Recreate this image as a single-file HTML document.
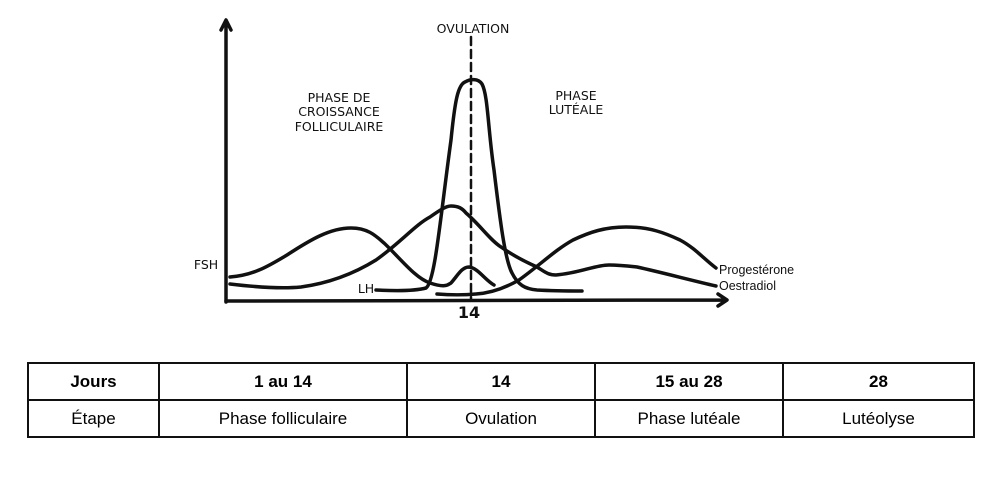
<!DOCTYPE html>
<html><head><meta charset="utf-8"><style>
body{margin:0;background:#fff;width:1000px;height:493px;overflow:hidden;font-family:"DejaVu Sans","Liberation Sans",sans-serif}
svg{position:absolute;left:0;top:0}
table{position:absolute;left:27px;top:362px;border-collapse:collapse;font-family:"Liberation Sans",sans-serif;font-size:17px}
td{border:2px solid #111;height:35px;text-align:center;padding:0}
</style></head><body>
<svg width="1000" height="360" viewBox="0 0 1000 360">
<g fill="none" stroke="#111" stroke-width="3.5" stroke-linecap="round" stroke-linejoin="round">
<path d="M226 302 L226 22 M221 30 L226 20 L231 30"/>
<path d="M226 301 L726 300 M718 294 L727 300 L718 306"/>
<path d="M471 37 L471 300" stroke-width="2.5" stroke-dasharray="8 5"/>
<path d="M230 277 C255 275 270 265 287 255 C310 240 330 228 351 228 C368 228 376 236 384 243 C400 258 415 278 430 283 C445 288 448 285 451 283 C458 275 462 267 469 267 C478 268 485 280 494 285"/>
<path d="M230 284 C255 287 280 289 301 287 C330 283 355 273 376 260 C400 243 415 225 430 217 C440 210 446 206 451 206 C458 206 462 208 466 213 C480 225 490 240 501 247 C515 257 528 263 537 267 C545 272 548 275 556 275 C580 273 595 265 609 265 C620 265 628 266 637 267 C660 272 690 280 716 286"/>
<path d="M376 290 C395 291 415 291 426 288 C435 282 440 220 451 140 C455 100 458 85 465 82 C470 79 478 78 482 84 C488 95 488 130 494 170 C500 220 505 260 512 273 C518 285 525 289 537 290 C555 291 570 291 582 291"/>
<path d="M437 294 C450 295 465 295 476 294 C490 293 505 288 519 280 C540 265 555 250 573 240 C590 232 605 227 626 227 C650 227 665 233 680 240 C695 248 705 260 716 268"/>
</g>
<g font-size="12.5" fill="#111" text-anchor="middle">
<text x="473" y="33">OVULATION</text>
<text x="339" y="102">PHASE DE</text>
<text x="339" y="116">CROISSANCE</text>
<text x="339" y="131">FOLLICULAIRE</text>
<text x="576" y="100">PHASE</text>
<text x="576" y="114">LUTÉALE</text>
<text x="206" y="269">FSH</text>
<text x="366" y="293">LH</text>
<text x="469" y="318" font-size="16" font-weight="bold">14</text>
</g>
<g font-size="12.5" fill="#111" font-family="Liberation Sans,sans-serif">
<text x="719" y="274">Progestérone</text>
<text x="719" y="290">Oestradiol</text>
</g>
</svg>
<table>
<tr><td style="width:129px;font-weight:bold">Jours</td><td style="width:246px;font-weight:bold">1 au 14</td><td style="width:186px;font-weight:bold">14</td><td style="width:186px;font-weight:bold">15 au 28</td><td style="width:189px;font-weight:bold">28</td></tr>
<tr><td>Étape</td><td>Phase folliculaire</td><td>Ovulation</td><td>Phase lutéale</td><td>Lutéolyse</td></tr>
</table>
</body></html>
